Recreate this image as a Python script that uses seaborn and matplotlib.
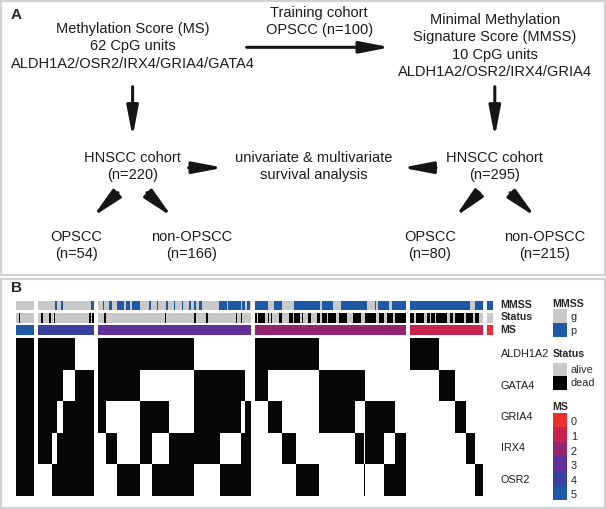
import numpy as np
import pandas as pd
import matplotlib
matplotlib.use("Agg")
import matplotlib.pyplot as plt
from matplotlib.colors import ListedColormap
from matplotlib.patches import Rectangle
import seaborn as sns

sns.set_theme(style="white")
plt.rcParams['font.family'] = ['Liberation Sans', 'DejaVu Sans']

# ---------------- data ----------------
genes = ["ALDH1A2", "GATA4", "GRIA4", "IRX4", "OSR2"]
ms_levels = [5, 4, 3, 2, 1, 0]

patterns_ms5 = ["11111"]
counts_ms5 = [12]
patterns_ms4 = ["11110", "11101", "11011", "10111", "01111"]
counts_ms4 = [9, 3, 4, 8, 12]
patterns_ms3 = ["11100", "11010", "11001", "10110", "10101", "10011",
                "01110", "01101", "01011", "00111"]
counts_ms3 = [5, 7, 15, 8, 11, 16, 17, 13, 3, 4]
patterns_ms2 = ["11000", "10100", "10010", "10001", "01100", "01010",
                "01001", "00110", "00101", "00011"]
counts_ms2 = [8, 9, 9, 15, 23, 6, 1, 12, 7, 7]
patterns_ms1 = ["10000", "01000", "00100", "00010", "00001"]
counts_ms1 = [19, 10, 7, 6, 5]
patterns_ms0 = ["00000"]
counts_ms0 = [4]

# MMSS = "p" runs (first, last sample index within each MS group)
mmss_p_ms5 = []
mmss_p_ms4 = [(11, 11), (15, 15), (34, 35)]
mmss_p_ms3 = [(3, 3), (7, 8), (12, 16), (18, 20), (22, 26), (33, 33), (38, 38),
              (44, 44), (49, 49), (54, 54), (59, 59), (62, 62), (65, 66),
              (78, 82), (84, 91), (93, 94), (96, 97)]
mmss_p_ms2 = [(0, 7), (12, 16), (25, 41), (43, 49), (55, 71), (77, 77),
              (79, 85), (88, 96)]
mmss_p_ms1 = [(0, 38), (42, 46)]
mmss_p_ms0 = [(0, 3)]

# Status = "dead" runs
dead_ms5 = [(2, 2)]
dead_ms4 = [(2, 2), (7, 7), (10, 10), (33, 33), (35, 35)]
dead_ms3 = [(4, 4), (43, 43), (62, 62), (70, 70), (89, 89), (92, 92)]
dead_ms2 = [(0, 0), (2, 5), (8, 8), (10, 10), (15, 16), (22, 23), (25, 28),
            (30, 30), (34, 35), (40, 41), (43, 45), (47, 51), (54, 58),
            (63, 67), (71, 77), (80, 82), (85, 88), (90, 96)]
dead_ms1 = [(0, 2), (4, 8), (11, 12), (14, 15), (17, 23), (26, 27),
            (29, 34), (36, 40), (42, 44)]
dead_ms0 = []

ms_colors = ["#EC2F2E", "#C8234A", "#932570", "#62309A", "#3A40A0", "#2058A8"]
grey_col = "#C9C9C9"
blue_col = "#2058A8"

groups = [
    (5, patterns_ms5, counts_ms5, mmss_p_ms5, dead_ms5),
    (4, patterns_ms4, counts_ms4, mmss_p_ms4, dead_ms4),
    (3, patterns_ms3, counts_ms3, mmss_p_ms3, dead_ms3),
    (2, patterns_ms2, counts_ms2, mmss_p_ms2, dead_ms2),
    (1, patterns_ms1, counts_ms1, mmss_p_ms1, dead_ms1),
    (0, patterns_ms0, counts_ms0, mmss_p_ms0, dead_ms0),
]


def expand_patterns(pats, cnts):
    cols = []
    for p, c in zip(pats, cnts):
        cols += [[int(ch) for ch in p]] * c
    return np.array(cols).T


def runs_to_vec(n, runs):
    v = np.zeros(n)
    for a, b in runs:
        v[a:b + 1] = 1
    return v


W, H = 606, 509
fig = plt.figure(figsize=(W / 100, H / 100), dpi=100)


def box(x0, y0, x1, y1):
    return [x0 / W, 1 - y1 / H, (x1 - x0) / W, (y1 - y0) / H]


ov = fig.add_axes([0, 0, 1, 1])
ov.set_xlim(0, W)
ov.set_ylim(H, 0)
ov.axis("off")

# panel frames
for (y0, y1) in [(1, 274.5), (278.5, 507.5)]:
    ov.add_patch(Rectangle((1, y0), 603.5, y1 - y0, fill=False,
                           ec="#D2D2D2", lw=1.6))

# ---------------- panel A ----------------
fs = 10.5
tcol = "#1C1C1C"
ov.text(11, 15, "A", fontsize=11, fontweight="bold", ha="left", va="center")
ov.text(11, 288, "B", fontsize=11, fontweight="bold", ha="left", va="center")

txt = [
    (132.6, 29, "Methylation Score (MS)"),
    (132.6, 46.3, "62 CpG units"),
    (132.6, 63.5, "ALDH1A2/OSR2/IRX4/GRIA4/GATA4"),
    (319.3, 12.7, "Training cohort"),
    (319.3, 30, "OPSCC (n=100)"),
    (494.8, 20, "Minimal Methylation"),
    (494.8, 37.3, "Signature Score (MMSS)"),
    (494.8, 54.6, "10 CpG units"),
    (494.8, 72.3, "ALDH1A2/OSR2/IRX4/GRIA4"),
    (132.2, 157.7, "HNSCC cohort"),
    (132.2, 175.5, "(n=220)"),
    (313.5, 157.7, "univariate & multivariate"),
    (313.5, 175, "survival analysis"),
    (494.8, 157.7, "HNSCC cohort"),
    (494.8, 175.5, "(n=295)"),
    (76.1, 236.7, "OPSCC"),
    (76.1, 254, "(n=54)"),
    (191.3, 236.7, "non-OPSCC"),
    (191.3, 254, "(n=166)"),
    (429.8, 236.7, "OPSCC"),
    (429.8, 254, "(n=80)"),
    (545.0, 236.7, "non-OPSCC"),
    (545.0, 254, "(n=215)"),
]
for x, y, s in txt:
    ov.text(x, y, s, fontsize=fs, ha="center", va="center", color=tcol)

arrows = [
    ((246.6, 47.3), (390.4, 47.3)),
    ((132.6, 86.7), (132.6, 137.0)),
    ((494.8, 86.7), (494.8, 137.0)),
    ((188.6, 167.7), (223.4, 167.7)),
    ((436.0, 167.7), (402.0, 167.7)),
    ((118.0, 192.7), (92.8, 216.7)),
    ((147.0, 192.7), (172.0, 216.7)),
    ((479.3, 192.7), (455.3, 216.7)),
    ((510.2, 192.7), (535.4, 216.7)),
]
for (x0, y0), (x1, y1) in arrows:
    ov.annotate("", xy=(x1, y1), xytext=(x0, y0),
                arrowprops=dict(arrowstyle="-|>,head_length=1.3,head_width=0.25",
                                lw=2.2, color="#151515", mutation_scale=14,
                                shrinkA=0, shrinkB=0))

# ---------------- panel B ----------------
x_left = 15.5
w = 1.55
gap = 4.0
rows_y = {"mmss": (300.5, 310.0), "status": (312.5, 322.5),
          "ms": (325.0, 334.5), "main": (338.3, 495.7)}

mmss_cmap = ListedColormap([grey_col, blue_col])
status_cmap = ListedColormap([grey_col, "#000000"])
ms_cmap = ListedColormap(ms_colors)
main_cmap = ListedColormap(["#FFFFFF", "#060606"])

xcur = x_left
for ms, pats, cnts, pruns, druns in groups:
    n = sum(cnts)
    x0, x1 = xcur, xcur + n * w
    mat = expand_patterns(pats, cnts)
    mmss_v = runs_to_vec(n, pruns)
    dead_v = runs_to_vec(n, druns)
    for key, data, cmap, vmin, vmax in [
        ("mmss", mmss_v[None, :], mmss_cmap, 0, 1),
        ("status", dead_v[None, :], status_cmap, 0, 1),
        ("ms", np.full((1, n), ms), ms_cmap, -0.5, 5.5),
        ("main", mat, main_cmap, 0, 1),
    ]:
        y0, y1 = rows_y[key]
        ax = fig.add_axes(box(x0, y0, x1, y1))
        sns.heatmap(pd.DataFrame(data), ax=ax, cmap=cmap, vmin=vmin, vmax=vmax,
                    cbar=False, xticklabels=False, yticklabels=False)
        ax.set_xlabel("")
        ax.set_ylabel("")
    xcur = x1 + gap

# row labels
lab_x = 500.7
for y, s in [(305.3, "MMSS"), (317.5, "Status"), (329.8, "MS")]:
    ov.text(lab_x, y, s, fontsize=7.6, fontweight="bold", ha="left", va="center")
row_h = (rows_y["main"][1] - rows_y["main"][0]) / len(genes)
for i, g in enumerate(genes):
    ov.text(lab_x, rows_y["main"][0] + (i + 0.5) * row_h, g, fontsize=7.8,
            ha="left", va="center", color=tcol)

# legends
lx0, lx1 = 552.7, 567.3
ltx = 570.7
lfs = 7.8
ov.text(lx0, 304, "MMSS", fontsize=7.6, fontweight="bold", ha="left", va="center")
for i, (c, s) in enumerate([(grey_col, "g"), (blue_col, "p")]):
    y0 = 309.3 + i * 14
    ov.add_patch(Rectangle((lx0, y0), lx1 - lx0, 14, color=c, lw=0))
    ov.text(ltx, y0 + 7.5, s, fontsize=lfs, ha="left", va="center")

ov.text(lx0, 354.3, "Status", fontsize=7.6, fontweight="bold", ha="left", va="center")
for i, (c, s) in enumerate([(grey_col, "alive"), ("#000000", "dead")]):
    y0 = 362.7 + i * 13.7
    ov.add_patch(Rectangle((lx0, y0), lx1 - lx0, 13.7, color=c, lw=0))
    ov.text(ltx, y0 + 7, s, fontsize=lfs, ha="left", va="center")

ov.text(lx0, 406.5, "MS", fontsize=7.6, fontweight="bold", ha="left", va="center")
sq = (500.0 - 412.7) / 6
for i, c in enumerate(ms_colors):
    y0 = 412.7 + i * sq
    ov.add_patch(Rectangle((lx0, y0), lx1 - lx0, sq, color=c, lw=0))
    ov.text(ltx, y0 + sq * 0.5 + 2.5, str(i), fontsize=lfs, ha="left", va="center")

fig.savefig("out.png", dpi=100)
